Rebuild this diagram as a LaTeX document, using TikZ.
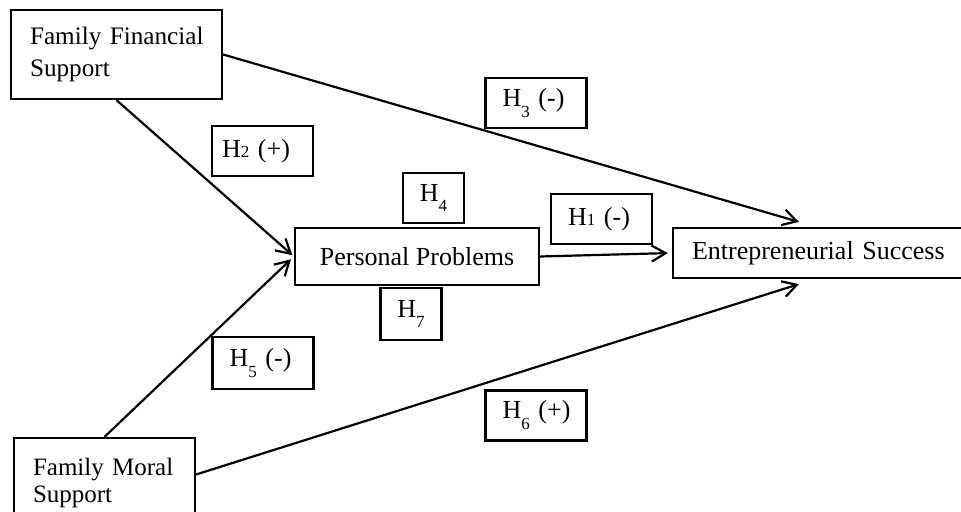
\documentclass[tikz,border=0pt]{standalone}
\usepackage{fontspec}
\setmainfont{Liberation Serif}
\usetikzlibrary{arrows.meta,calc}
\newcommand{\hlow}[1]{H\raisebox{-0.42em}{\fontsize{8.5}{9}\selectfont #1}}
\newcommand{\hbase}[1]{H{\fontsize{8.5}{9}\selectfont #1}}
\begin{document}
\begin{tikzpicture}[x=0.5pt,y=-0.5pt,line width=1.1pt,
    every node/.style={font=\fontsize{13}{15}\selectfont},
    box/.style={draw,inner ysep=0pt},
    hyp/.style={draw,minimum height=25pt,inner xsep=8.5pt,text width=33.5pt,align=left},
    hypsmall/.style={draw,minimum height=25pt,minimum width=30.5pt,inner sep=0pt},
    arr/.style={-{Straight Barb[length=7pt,width=8pt]}}]
    \useasboundingbox (0,0) rectangle (961,512);
    % variables
    \node[box,minimum width=105.5pt,minimum height=44.5pt,inner xsep=9.5pt,text width=86.5pt,align=left,font=\fontsize{12.6}{16}\selectfont] (ffs) at (116.5,54.5) {\mbox{Family Financial}\\Support};
    \node[box,minimum width=90.5pt,minimum height=44.5pt,inner xsep=9.5pt,text width=71.5pt,align=left,font=\fontsize{12.5}{13.5}\selectfont] (fms) at (104.5,482.5) {\mbox{Family Moral}\\Support};
    \node[box,minimum width=122pt,minimum height=28.5pt] (pp) at (417,256.5) {Personal Problems};
    \node[box,minimum width=150pt,minimum height=25pt,inner xsep=9.5pt,text width=131pt,align=left] (es) at (823,253) {\mbox{Entrepreneurial Success}};
    \coordinate (es-top) at ($(es.north west)+(127,-5)$);
    \coordinate (es-bot) at ($(es.south west)+(127,5)$);
    % paths
    \draw[arr] (ffs.east)--(es-top);
    \draw[arr] (fms.5)--(es-bot);
    \draw[arr,shorten >=1pt] (ffs.south)--(pp.west);
    \draw[arr,shorten >=2pt] (fms.north)--(pp.west);
    \draw[arr,shorten >=2pt] (pp.east)--(es.west);
    % hypotheses
    \node[hyp,inner xsep=5pt,text width=40.5pt] (h2) at (262.5,151) {\mbox{\hbase{2} (+)}};
    \node[hyp] (h3) at (536,103) {\mbox{\hlow{3} (-)}};
    \node[hypsmall] (h4) at (433.5,198) {\hlow{4}};
    \node[hyp] (h1) at (601.5,219) {\mbox{\hbase{1} (-)}};
    \node[hypsmall,minimum height=26pt] (h7) at (411,314) {\hlow{7}};
    \node[hyp,minimum height=26pt] (h5) at (263,363) {\mbox{\hlow{5} (-)}};
    \node[hyp] (h6) at (536,415.5) {\mbox{\hlow{6} (+)}};
\end{tikzpicture}
\end{document}
